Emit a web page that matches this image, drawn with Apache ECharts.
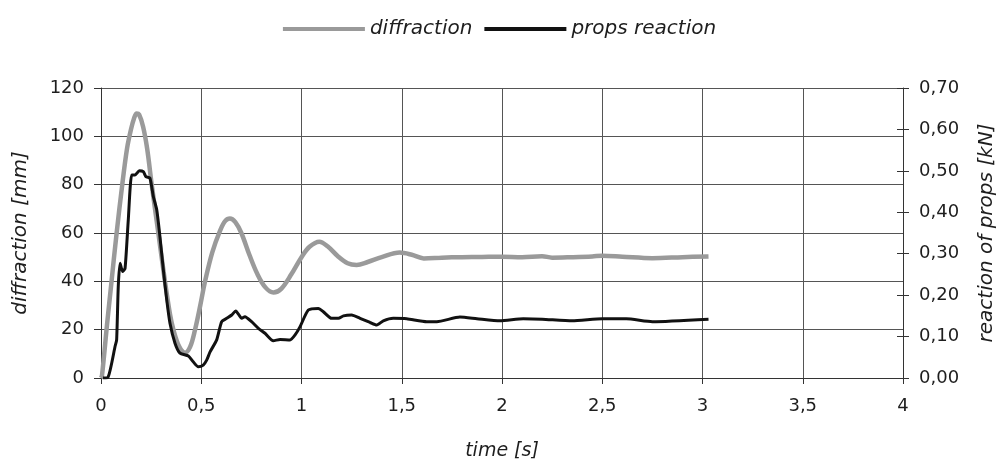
<!DOCTYPE html>
<html>
<head>
<meta charset="utf-8">
<script src="https://cdn.jsdelivr.net/npm/echarts@6/dist/echarts.min.js"></script>
<style>html,body{margin:0;padding:0;background:#fff}#c{width:999px;height:466px}</style>
</head>
<body>
<div id="c"></div>
<script>
// time [s] and diffraction [mm]
var diffT = [0, 0.005, 0.03, 0.05, 0.078, 0.106, 0.13, 0.15, 0.165, 0.178, 0.19, 0.21, 0.23, 0.253, 0.286, 0.319, 0.345, 0.361, 0.39, 0.419, 0.445, 0.469, 0.495, 0.519, 0.555, 0.594, 0.62, 0.643, 0.67, 0.70, 0.74, 0.78, 0.82, 0.86, 0.9, 0.95, 1.0, 1.04, 1.089, 1.13, 1.18, 1.23, 1.275, 1.33, 1.4, 1.49, 1.55, 1.61, 1.7, 1.8, 1.9, 2.0, 2.1, 2.2, 2.25, 2.35, 2.45, 2.5, 2.6, 2.75, 2.9, 3.03];
var diffV = [0, 1, 22, 38, 60, 80, 95, 103, 107.5, 109.5, 109, 104, 95, 80, 60, 40, 26, 20, 13, 10.5, 13, 20, 30, 40, 52, 61, 65, 66, 64.5, 60, 51, 43, 37.5, 35.4, 37, 43, 50, 54.3, 56.4, 54.5, 50.5, 47.5, 46.8, 48, 50, 51.9, 51, 49.5, 49.8, 50, 50.1, 50.2, 50, 50.4, 49.8, 50, 50.3, 50.6, 50.2, 49.6, 50, 50.3];
// time [s] and props reaction [kN]
var propT = [0.01, 0.035, 0.053, 0.07, 0.078, 0.086, 0.095, 0.108, 0.12, 0.136, 0.153, 0.17, 0.191, 0.211, 0.224, 0.244, 0.261, 0.278, 0.294, 0.311, 0.328, 0.344, 0.369, 0.394, 0.436, 0.46, 0.485, 0.51, 0.527, 0.544, 0.577, 0.602, 0.627, 0.652, 0.672, 0.702, 0.718, 0.751, 0.785, 0.818, 0.859, 0.893, 0.943, 0.968, 0.993, 1.034, 1.084, 1.109, 1.15, 1.184, 1.209, 1.25, 1.292, 1.342, 1.375, 1.408, 1.458, 1.525, 1.625, 1.675, 1.79, 1.875, 1.99, 2.106, 2.2, 2.35, 2.5, 2.62, 2.75, 3.03];
var propV = [0, 0.002, 0.035, 0.076, 0.092, 0.22, 0.277, 0.257, 0.265, 0.381, 0.49, 0.49, 0.50, 0.498, 0.486, 0.483, 0.438, 0.406, 0.341, 0.261, 0.188, 0.132, 0.084, 0.06, 0.053, 0.039, 0.027, 0.031, 0.043, 0.063, 0.092, 0.136, 0.144, 0.152, 0.162, 0.144, 0.148, 0.136, 0.12, 0.108, 0.09, 0.093, 0.092, 0.104, 0.124, 0.164, 0.168, 0.16, 0.144, 0.144, 0.15, 0.152, 0.144, 0.134, 0.128, 0.138, 0.144, 0.143, 0.136, 0.136, 0.147, 0.143, 0.138, 0.143, 0.142, 0.138, 0.143, 0.143, 0.136, 0.142];
var seriesNames = ['diffraction', 'props reaction'];
var xTitle = 'time [s]';
var yLeftTitle = 'diffraction [mm]';
var yRightTitle = 'reaction of props [kN]';

function pairs(t, v) { return t.map(function (x, i) { return [x, v[i]]; }); }
function comma(v, d) { return v.toFixed(d).replace('.', ','); }

var FONT = 'DejaVu Sans';
var TXT = '#1e1e1e';
var chart = echarts.init(document.getElementById('c'), null, { renderer: 'canvas' });
chart.setOption({
  animation: false,
  textStyle: { fontFamily: FONT },
  legend: {
    top: 14, left: 'center', itemGap: 12, itemWidth: 82, itemHeight: 4,
    textStyle: { fontFamily: FONT, fontSize: 20, fontStyle: 'italic', color: TXT },
    data: [
      { name: seriesNames[0], icon: 'rect', itemStyle: { color: '#9a9a9a' } },
      { name: seriesNames[1], icon: 'rect', itemStyle: { color: '#111' } }
    ]
  },
  grid: { left: 101, right: 96, top: 88, bottom: 88, containLabel: false, outerBoundsMode: 'none' },
  xAxis: {
    type: 'value', min: 0, max: 4, interval: 0.5,
    name: xTitle, nameLocation: 'middle', nameGap: 64,
    nameTextStyle: { fontFamily: FONT, fontSize: 19, fontStyle: 'italic', color: TXT },
    axisLine: { onZero: false, lineStyle: { color: '#333', width: 1 } },
    axisTick: { show: true, length: 6, lineStyle: { color: '#333' } },
    axisLabel: { fontFamily: FONT, fontSize: 18, color: TXT, margin: 19,
      formatter: function (v) { return v === Math.round(v) ? String(v) : comma(v, 1); } },
    splitLine: { show: true, lineStyle: { color: '#555', width: 1 } }
  },
  yAxis: [
    {
      type: 'value', min: 0, max: 120, interval: 20, position: 'left',
      name: yLeftTitle, nameLocation: 'middle', nameGap: 70, nameRotate: 90,
      nameTextStyle: { fontFamily: FONT, fontSize: 20, fontStyle: 'italic', color: TXT },
      axisLine: { show: true, lineStyle: { color: '#333', width: 1 } },
      axisTick: { show: true, length: 7, lineStyle: { color: '#333' } },
      axisLabel: { fontFamily: FONT, fontSize: 18, color: TXT, margin: 17 },
      splitLine: { show: true, lineStyle: { color: '#555', width: 1 } }
    },
    {
      type: 'value', min: 0, max: 0.7, interval: 0.1, position: 'right',
      name: yRightTitle, nameLocation: 'middle', nameGap: 74, nameRotate: 90,
      nameTextStyle: { fontFamily: FONT, fontSize: 20, fontStyle: 'italic', color: TXT },
      axisLine: { show: true, lineStyle: { color: '#333', width: 1 } },
      axisTick: { show: true, length: 6, lineStyle: { color: '#333' } },
      axisLabel: { fontFamily: FONT, fontSize: 18, color: TXT, margin: 16,
        formatter: function (v) { return comma(v, 2); } },
      splitLine: { show: false }
    },
    {
      type: 'value', min: 0, max: 0.7, interval: 0.1, position: 'right',
      axisLine: { show: false },
      axisTick: { show: true, inside: true, length: 6, lineStyle: { color: '#333' } },
      axisLabel: { show: false },
      splitLine: { show: false }
    }
  ],
  series: [
    {
      name: seriesNames[0], type: 'line', yAxisIndex: 0, showSymbol: false, symbol: 'none',
      smooth: 0.35, data: pairs(diffT, diffV),
      lineStyle: { color: '#9a9a9a', width: 4.5 }, itemStyle: { color: '#9a9a9a' }, z: 3
    },
    {
      name: seriesNames[1], type: 'line', yAxisIndex: 1, showSymbol: false, symbol: 'none',
      smooth: 0.2, data: pairs(propT, propV),
      lineStyle: { color: '#111', width: 3 }, itemStyle: { color: '#111' }, z: 4
    }
  ]
});
</script>
</body>
</html>
